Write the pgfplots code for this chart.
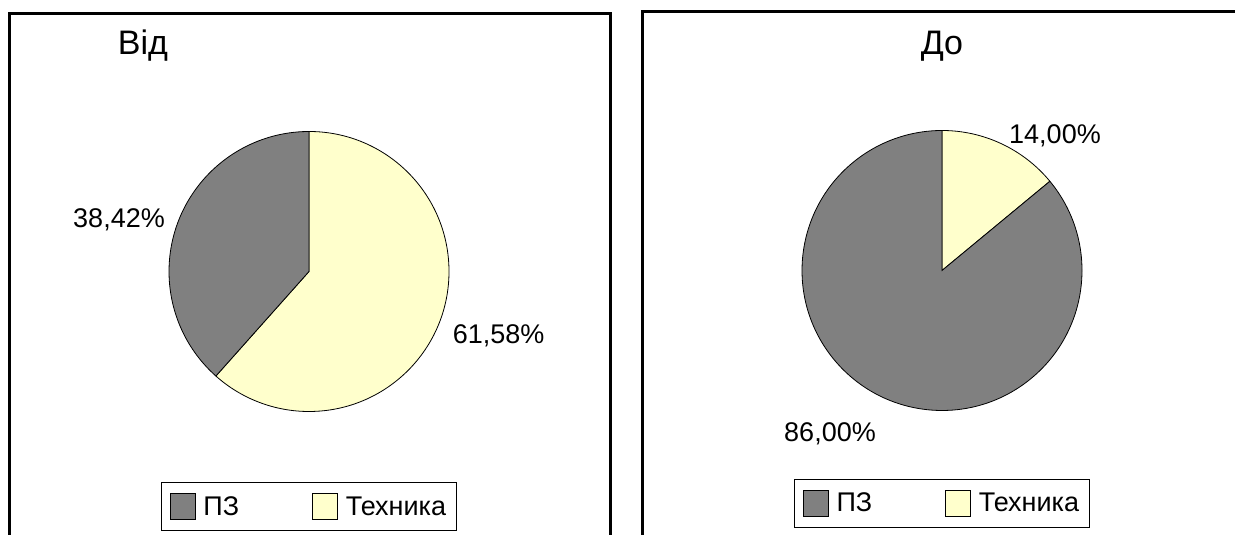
\documentclass[border=0pt]{standalone}
\usepackage{fontspec}
\setmainfont{Liberation Sans}
\usepackage{pgfplots}
\pgfplotsset{compat=1.18}
\usepackage{pgfplotstable}

\definecolor{pzgray}{HTML}{808080}
\definecolor{techyellow}{HTML}{FFFFCC}

\pgfplotstableread{
category share
PZ 38.42
Tech 61.58
}\fromdata
\pgfplotstableread{
category share
PZ 86.00
Tech 14.00
}\todata

\tikzset{lbl/.style={anchor=base, font=\fontsize{27bp}{32bp}\selectfont}}

\begin{document}%
\begin{tikzpicture}[x=1bp,y=1bp]
\pgfplotstablegetelem{0}{share}\of\fromdata \xdef\fromPZ{\pgfplotsretval}%
\pgfplotstablegetelem{1}{share}\of\fromdata \xdef\fromTech{\pgfplotsretval}%
\pgfplotstablegetelem{0}{share}\of\todata \xdef\toPZ{\pgfplotsretval}%
\pgfplotstablegetelem{1}{share}\of\todata \xdef\toTech{\pgfplotsretval}%
\useasboundingbox (0,0) rectangle (1235,535);
% panel frames (cut at the bottom and right of the image)
\draw[line width=3bp] (9,-20) -- (9,521) -- (610.5,521) -- (610.5,-20);
\draw[line width=3bp] (642.5,-20) -- (642.5,523.3) -- (1260,523.3);
% titles
\node[anchor=base, font=\fontsize{34bp}{40bp}\selectfont] at (143,480) {Від};
\node[anchor=base, font=\fontsize{34bp}{40bp}\selectfont] at (942,480) {До};

\pgfplotsset{
  pieaxis/.style={
    width=280bp, height=280bp, scale only axis,
    xmin=-1, xmax=1, ymin=-1, ymax=1,
    hide axis, clip=false, anchor=center,
    legend columns=2,
    legend image code/.code={\draw[##1, draw=black, line width=0.6bp] (0bp,-13bp) rectangle (25bp,13bp);},
    legend style={at={(0.5,0)}, anchor=north, draw=black, line width=0.8bp,
      font=\fontsize{27bp}{31bp}\selectfont, inner xsep=8.5bp, inner ysep=10.5bp,
      /tikz/every odd column/.append style={column sep=6bp},
      /tikz/every even column/.append style={column sep=71bp}},
  },
}

% ---- left pie: Від
\begin{axis}[pieaxis, at={(309bp,263.5bp)}, legend style={yshift=-71bp}]
\addlegendimage{fill=pzgray}\addlegendentry{ПЗ}
\addlegendimage{fill=techyellow}\addlegendentry{Техника}
\filldraw[fill=techyellow, draw=black, line width=0.8bp]
  (axis cs:0,0) -- (axis cs:0,1) arc[start angle=90, delta angle={-3.6*\fromTech}, radius=140bp] -- cycle;
\filldraw[fill=pzgray, draw=black, line width=0.8bp]
  (axis cs:0,0) -- ++({90-3.6*\fromTech}:140bp) arc[start angle={90-3.6*\fromTech}, delta angle={-3.6*\fromPZ}, radius=140bp] -- cycle;
\node[lbl] at (axis cs:-1.357,0.312) {38,42\%};
\node[lbl] at (axis cs:1.354,-0.511) {61,58\%};
\end{axis}

% ---- right pie: До
\begin{axis}[pieaxis, at={(942bp,264.5bp)}, legend style={yshift=-68.5bp}]
\addlegendimage{fill=pzgray}\addlegendentry{ПЗ}
\addlegendimage{fill=techyellow}\addlegendentry{Техника}
\filldraw[fill=techyellow, draw=black, line width=0.8bp]
  (axis cs:0,0) -- (axis cs:0,1) arc[start angle=90, delta angle={-3.6*\toTech}, radius=140bp] -- cycle;
\filldraw[fill=pzgray, draw=black, line width=0.8bp]
  (axis cs:0,0) -- ++({90-3.6*\toTech}:140bp) arc[start angle={90-3.6*\toTech}, delta angle={-3.6*\toPZ}, radius=140bp] -- cycle;
\node[lbl] at (axis cs:0.807,0.907) {14,00\%};
\node[lbl] at (axis cs:-0.8,-1.221) {86,00\%};
\end{axis}
\end{tikzpicture}%
\end{document}
